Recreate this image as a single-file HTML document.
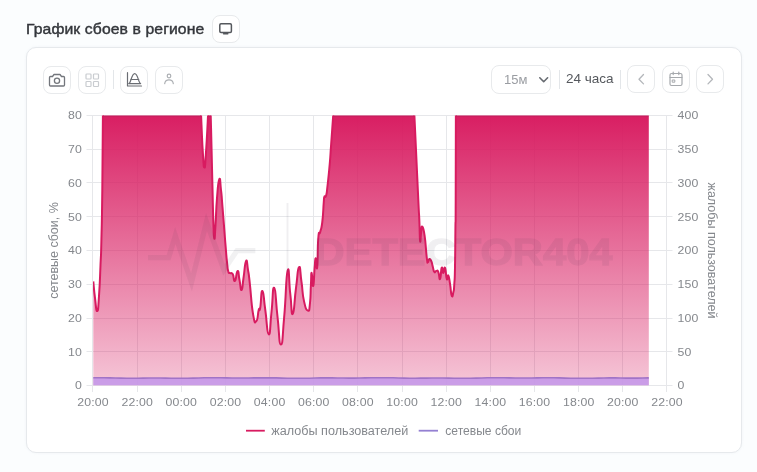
<!DOCTYPE html>
<html lang="ru">
<head>
<meta charset="utf-8">
<title>График сбоев в регионе</title>
<style>
*{box-sizing:border-box;margin:0;padding:0}
html,body{width:757px;height:472px;overflow:hidden;background:#fbfdfe;font-family:"Liberation Sans",sans-serif;}
.abs{position:absolute}
.title{position:absolute;left:26px;top:19px;font-size:14.7px;font-weight:400;color:#33363b;-webkit-text-stroke:0.42px #33363b;line-height:20px;white-space:nowrap;letter-spacing:0.1px;transform:scaleX(1.07);transform-origin:0 0}
.btn{position:absolute;width:28px;height:28px;border:1px solid #e8eaec;border-radius:8px;background:#fff}
.card{position:absolute;left:26px;top:47px;width:716px;height:406px;background:#fff;border:1px solid #e6e9ec;border-radius:10px;box-shadow:0 0 3px rgba(200,210,220,.2)}
.sep{position:absolute;width:1px;background:#e3e6e9}
.sel{position:absolute;left:491px;top:65px;width:60px;height:29px;border:1px solid #e8eaec;border-radius:8px;background:#fff}
.sel span{position:absolute;left:12px;top:6px;font-size:13px;color:#9a9da2;line-height:16px}
.rng{position:absolute;left:566px;top:71px;font-size:13.5px;color:#55585d;line-height:16px;white-space:nowrap}
svg{position:absolute;left:0;top:0}
svg text{font-family:"Liberation Sans",sans-serif}
</style>
</head>
<body>
<div class="title">График сбоев в регионе</div>
<div class="btn" style="left:212px;top:15px"></div>
<div class="card"></div>

<div class="btn" style="left:43px;top:66px"></div>
<div class="btn" style="left:78px;top:66px"></div>
<div class="sep" style="left:113px;top:70px;height:19px"></div>
<div class="btn" style="left:120px;top:66px"></div>
<div class="btn" style="left:155px;top:66px"></div>

<div class="sel"><span>15м</span></div>
<div class="sep" style="left:559px;top:70px;height:19px"></div>
<div class="rng">24 часа</div>
<div class="sep" style="left:620px;top:70px;height:19px"></div>
<div class="btn" style="left:627px;top:65px"></div>
<div class="btn" style="left:662px;top:65px"></div>
<div class="btn" style="left:696px;top:65px"></div>

<svg width="757" height="472" viewBox="0 0 757 472">
<defs>
<linearGradient id="pg" x1="0" y1="115.5" x2="0" y2="385.5" gradientUnits="userSpaceOnUse">
<stop offset="0" stop-color="#d81b60" stop-opacity="0.985"/>
<stop offset="1" stop-color="#d81b60" stop-opacity="0.25"/>
</linearGradient>
<clipPath id="cp"><rect x="93" y="115.5" width="574" height="270"/></clipPath>
</defs>

<!-- icons -->
<g fill="none" stroke="#7b7e84" stroke-width="1.3" stroke-linecap="round" stroke-linejoin="round">
<!-- title monitor -->
<rect x="219.8" y="23.8" width="11.6" height="8.6" rx="1.2" stroke="#55585d" stroke-width="1.5"/>
<path d="M223.6,33.7h4.2" stroke="#55585d" stroke-width="1.6"/>
<!-- camera -->
<path d="M50.5,76.5h2l1.5,-2h6l1.5,2h2a1,1 0 0 1 1,1v7.5a1,1 0 0 1 -1,1h-13a1,1 0 0 1 -1,-1v-7.5a1,1 0 0 1 1,-1z" stroke="#73767c" stroke-width="1.3"/>
<circle cx="57" cy="80.7" r="2.6" stroke="#73767c" stroke-width="1.3"/>
<!-- grid -->
<g stroke="#c9ccd0" stroke-width="1.2">
<rect x="86" y="74" width="5" height="5" rx="0.8"/><rect x="93.5" y="74" width="5" height="5" rx="0.8"/>
<rect x="86" y="81.5" width="5" height="5" rx="0.8"/><rect x="93.5" y="81.5" width="5" height="5" rx="0.8"/>
</g>
<!-- area chart icon -->
<path d="M127.5,72.7V86H141.5 M128.8,83.6C131,83 131.5,73.6 134.7,73.6S138.5,83 140.6,83.6Z M130.6,79.5H138.8" stroke="#6a6d73" stroke-width="1.2"/>
<!-- person -->
<g stroke="#adb0b4" stroke-width="1.2">
<circle cx="169" cy="76" r="1.8"/>
<path d="M164.7,83.6c0.3,-2.4 2,-3.8 4.3,-3.8s4,1.4 4.3,3.8"/>
</g>
<!-- select chevron -->
<path d="M539.8,77.8l3.9,3.9l3.9,-3.9" stroke="#666a70" stroke-width="1.6"/>
<!-- prev / next -->
<path d="M643.5,74.5l-4.5,4.7l4.5,4.7" stroke="#b4b7bb" stroke-width="1.3"/>
<path d="M708,74.5l4.5,4.7l-4.5,4.7" stroke="#b4b7bb" stroke-width="1.3"/>
<!-- calendar -->
<g stroke="#a6a9ad" stroke-width="1.2">
<rect x="670" y="73.5" width="12" height="12" rx="1.5"/>
<path d="M670,77.5h12 M673.2,72v2.6 M678.8,72v2.6"/>
<rect x="672.6" y="80" width="2.2" height="2.2" stroke-width="1"/>
</g>
</g>

<!-- grid -->
<g stroke="#e6e7ea" stroke-width="1" fill="none">
<path d="M86.5,385.5H672.5"/>
<path d="M86.5,351.5H672.5"/>
<path d="M86.5,318.5H672.5"/>
<path d="M86.5,284.5H672.5"/>
<path d="M86.5,250.5H672.5"/>
<path d="M86.5,216.5H672.5"/>
<path d="M86.5,182.5H672.5"/>
<path d="M86.5,149.5H672.5"/>
<path d="M86.5,115.5H672.5"/>
<path d="M92.5,115.5V392"/>
<path d="M137.5,115.5V392"/>
<path d="M181.5,115.5V392"/>
<path d="M225.5,115.5V392"/>
<path d="M269.5,115.5V392"/>
<path d="M313.5,115.5V392"/>
<path d="M357.5,115.5V392"/>
<path d="M402.5,115.5V392"/>
<path d="M446.5,115.5V392"/>
<path d="M490.5,115.5V392"/>
<path d="M534.5,115.5V392"/>
<path d="M578.5,115.5V392"/>
<path d="M622.5,115.5V392"/>
<path d="M666.5,115.5V392"/>
</g>
<!-- chart -->
<g clip-path="url(#cp)">
<path d="M93.3,281.4C93.8,286.4 93.8,289.1 95.0,298.0C96.2,306.9 96.0,311.6 97.2,311.0C98.4,310.4 98.0,309.8 99.0,296.0C100.0,282.2 99.8,281.8 100.5,265.0C101.2,248.2 100.9,262.5 101.4,240.0C101.9,217.5 101.8,232.0 102.3,190.0C102.8,148.0 102.8,127.0 103.0,100.0L200.5,100.0C200.8,107.5 200.8,108.5 201.5,125.0C202.2,141.5 202.1,142.2 203.0,155.0C203.9,167.8 203.6,167.5 204.4,167.5C205.2,167.5 204.8,169.2 205.8,155.0C206.8,140.8 207.0,136.5 207.8,120.0C208.6,103.5 208.1,109.0 208.6,100.0C209.1,91.0 209.0,88.5 209.5,90.0C210.0,91.5 209.8,93.0 210.3,105.0C210.8,117.0 210.5,107.5 211.1,130.0C211.7,152.5 211.6,153.0 212.3,180.0C213.0,207.0 212.7,202.4 213.3,220.0C213.9,237.6 213.6,237.0 214.3,238.5C215.0,240.0 214.7,237.2 215.5,225.0C216.3,212.8 215.9,211.7 217.0,198.0C218.1,184.3 218.1,181.7 219.3,179.3C220.5,176.9 220.0,181.7 221.0,190.0C222.0,198.3 221.2,191.2 222.5,207.0C223.8,222.8 224.0,226.1 225.3,242.6C226.7,259.1 226.1,253.5 227.0,262.0C227.9,270.5 227.3,267.7 228.2,271.0C229.1,274.3 228.7,272.1 230.0,273.0C231.3,273.9 231.2,271.6 232.7,274.0C234.2,276.4 233.4,281.9 234.9,281.0C236.4,280.1 236.2,271.3 237.6,271.0C239.0,270.7 238.3,274.3 239.5,280.0C240.7,285.7 240.4,290.6 241.6,290.0C242.8,289.4 242.2,286.6 243.5,278.0C244.8,269.4 244.7,263.6 246.0,261.2C247.3,258.8 246.9,263.4 248.0,270.0C249.1,276.6 248.3,270.0 249.8,283.3C251.3,296.6 251.1,303.1 253.1,314.4C255.1,325.7 254.7,322.3 256.4,321.0C258.1,319.7 257.6,313.9 258.7,310.0C259.8,306.1 259.1,313.7 260.2,308.0C261.3,302.3 260.9,290.4 262.4,291.0C263.9,291.6 263.4,297.0 265.3,310.0C267.2,323.0 266.8,333.8 268.7,334.4C270.6,335.0 269.9,326.0 271.5,312.0C273.1,298.0 272.4,286.4 274.2,287.8C276.0,289.2 275.5,299.7 277.5,316.7C279.5,333.7 278.9,344.4 280.9,344.4C282.9,344.4 282.2,338.8 284.2,316.7C286.2,294.6 285.8,277.6 287.6,270.8C289.4,264.0 288.7,281.1 290.3,294.0C291.9,306.9 291.1,315.7 292.8,313.9C294.5,312.1 294.1,302.0 296.0,288.0C297.9,274.0 297.4,269.0 299.0,267.2C300.6,265.4 300.0,272.0 301.5,282.0C303.0,292.0 302.0,292.0 303.9,300.6C305.8,309.2 306.1,309.9 307.9,310.6C309.7,311.3 309.1,310.7 310.0,303.0C310.9,295.3 310.4,294.1 310.9,285.0C311.4,275.9 311.0,272.5 311.7,272.8C312.4,273.1 312.3,287.4 313.2,286.0C314.1,284.6 313.9,276.3 314.6,268.0C315.4,259.7 314.9,258.6 315.7,258.3C316.5,258.0 316.4,273.1 317.2,267.0C318.0,260.9 317.4,248.5 318.3,238.0C319.2,227.5 319.0,236.8 320.2,232.0C321.4,227.2 321.2,230.7 322.3,222.0C323.4,213.3 323.1,210.5 323.7,203.0C324.3,195.5 323.7,199.2 324.3,197.0C325.0,194.8 325.1,199.1 326.1,195.5C327.1,191.9 326.5,194.4 327.6,185.0C328.7,175.6 328.6,176.7 329.7,164.3C330.8,151.9 330.1,158.3 331.2,143.6C332.2,128.9 332.3,128.5 333.2,115.4C334.1,102.3 334.0,104.6 334.3,100.0L413.5,100.0C413.8,104.7 413.6,100.5 414.4,115.5C415.1,130.5 414.8,124.7 416.0,150.0C417.2,175.3 417.3,178.4 418.3,200.0C419.3,221.6 418.9,209.7 419.4,222.0C419.9,234.3 419.6,238.0 420.1,241.0C420.6,244.0 420.5,236.3 421.2,232.0C421.9,227.7 421.3,225.6 422.3,226.7C423.3,227.8 423.2,226.3 424.6,235.6C426.0,244.9 425.8,249.9 426.8,257.8C427.8,265.7 427.1,261.6 427.9,262.0C428.7,262.4 428.4,259.3 429.4,259.0C430.4,258.7 430.2,258.7 431.2,261.0C432.2,263.3 431.9,263.4 432.8,266.7C433.7,270.0 433.3,270.7 434.3,272.0C435.3,273.3 434.9,271.0 436.1,271.0C437.3,271.0 437.1,269.6 438.3,272.0C439.5,274.4 439.1,280.3 440.1,279.0C441.1,277.7 440.8,269.6 441.7,267.8C442.6,266.0 442.2,273.0 443.2,273.0C444.2,273.0 443.9,266.0 445.0,267.8C446.1,269.6 445.8,276.7 446.8,279.0C447.8,281.3 447.3,273.9 448.3,275.5C449.3,277.1 449.1,278.4 450.1,284.4C451.1,290.4 450.7,293.3 451.7,295.6C452.7,297.9 452.6,295.5 453.4,292.0C454.2,288.5 453.8,291.6 454.3,284.0C454.8,276.4 454.7,282.9 455.0,266.7C455.3,250.5 455.2,250.0 455.4,230.0C455.6,210.0 455.6,239.0 455.7,200.0C455.8,161.0 455.8,130.0 455.9,100.0L648.8,100L648.8,385.5L93.3,385.5Z" fill="url(#pg)"/>
<path d="M93.3,281.4C93.8,286.4 93.8,289.1 95.0,298.0C96.2,306.9 96.0,311.6 97.2,311.0C98.4,310.4 98.0,309.8 99.0,296.0C100.0,282.2 99.8,281.8 100.5,265.0C101.2,248.2 100.9,262.5 101.4,240.0C101.9,217.5 101.8,232.0 102.3,190.0C102.8,148.0 102.8,127.0 103.0,100.0L200.5,100.0C200.8,107.5 200.8,108.5 201.5,125.0C202.2,141.5 202.1,142.2 203.0,155.0C203.9,167.8 203.6,167.5 204.4,167.5C205.2,167.5 204.8,169.2 205.8,155.0C206.8,140.8 207.0,136.5 207.8,120.0C208.6,103.5 208.1,109.0 208.6,100.0C209.1,91.0 209.0,88.5 209.5,90.0C210.0,91.5 209.8,93.0 210.3,105.0C210.8,117.0 210.5,107.5 211.1,130.0C211.7,152.5 211.6,153.0 212.3,180.0C213.0,207.0 212.7,202.4 213.3,220.0C213.9,237.6 213.6,237.0 214.3,238.5C215.0,240.0 214.7,237.2 215.5,225.0C216.3,212.8 215.9,211.7 217.0,198.0C218.1,184.3 218.1,181.7 219.3,179.3C220.5,176.9 220.0,181.7 221.0,190.0C222.0,198.3 221.2,191.2 222.5,207.0C223.8,222.8 224.0,226.1 225.3,242.6C226.7,259.1 226.1,253.5 227.0,262.0C227.9,270.5 227.3,267.7 228.2,271.0C229.1,274.3 228.7,272.1 230.0,273.0C231.3,273.9 231.2,271.6 232.7,274.0C234.2,276.4 233.4,281.9 234.9,281.0C236.4,280.1 236.2,271.3 237.6,271.0C239.0,270.7 238.3,274.3 239.5,280.0C240.7,285.7 240.4,290.6 241.6,290.0C242.8,289.4 242.2,286.6 243.5,278.0C244.8,269.4 244.7,263.6 246.0,261.2C247.3,258.8 246.9,263.4 248.0,270.0C249.1,276.6 248.3,270.0 249.8,283.3C251.3,296.6 251.1,303.1 253.1,314.4C255.1,325.7 254.7,322.3 256.4,321.0C258.1,319.7 257.6,313.9 258.7,310.0C259.8,306.1 259.1,313.7 260.2,308.0C261.3,302.3 260.9,290.4 262.4,291.0C263.9,291.6 263.4,297.0 265.3,310.0C267.2,323.0 266.8,333.8 268.7,334.4C270.6,335.0 269.9,326.0 271.5,312.0C273.1,298.0 272.4,286.4 274.2,287.8C276.0,289.2 275.5,299.7 277.5,316.7C279.5,333.7 278.9,344.4 280.9,344.4C282.9,344.4 282.2,338.8 284.2,316.7C286.2,294.6 285.8,277.6 287.6,270.8C289.4,264.0 288.7,281.1 290.3,294.0C291.9,306.9 291.1,315.7 292.8,313.9C294.5,312.1 294.1,302.0 296.0,288.0C297.9,274.0 297.4,269.0 299.0,267.2C300.6,265.4 300.0,272.0 301.5,282.0C303.0,292.0 302.0,292.0 303.9,300.6C305.8,309.2 306.1,309.9 307.9,310.6C309.7,311.3 309.1,310.7 310.0,303.0C310.9,295.3 310.4,294.1 310.9,285.0C311.4,275.9 311.0,272.5 311.7,272.8C312.4,273.1 312.3,287.4 313.2,286.0C314.1,284.6 313.9,276.3 314.6,268.0C315.4,259.7 314.9,258.6 315.7,258.3C316.5,258.0 316.4,273.1 317.2,267.0C318.0,260.9 317.4,248.5 318.3,238.0C319.2,227.5 319.0,236.8 320.2,232.0C321.4,227.2 321.2,230.7 322.3,222.0C323.4,213.3 323.1,210.5 323.7,203.0C324.3,195.5 323.7,199.2 324.3,197.0C325.0,194.8 325.1,199.1 326.1,195.5C327.1,191.9 326.5,194.4 327.6,185.0C328.7,175.6 328.6,176.7 329.7,164.3C330.8,151.9 330.1,158.3 331.2,143.6C332.2,128.9 332.3,128.5 333.2,115.4C334.1,102.3 334.0,104.6 334.3,100.0L413.5,100.0C413.8,104.7 413.6,100.5 414.4,115.5C415.1,130.5 414.8,124.7 416.0,150.0C417.2,175.3 417.3,178.4 418.3,200.0C419.3,221.6 418.9,209.7 419.4,222.0C419.9,234.3 419.6,238.0 420.1,241.0C420.6,244.0 420.5,236.3 421.2,232.0C421.9,227.7 421.3,225.6 422.3,226.7C423.3,227.8 423.2,226.3 424.6,235.6C426.0,244.9 425.8,249.9 426.8,257.8C427.8,265.7 427.1,261.6 427.9,262.0C428.7,262.4 428.4,259.3 429.4,259.0C430.4,258.7 430.2,258.7 431.2,261.0C432.2,263.3 431.9,263.4 432.8,266.7C433.7,270.0 433.3,270.7 434.3,272.0C435.3,273.3 434.9,271.0 436.1,271.0C437.3,271.0 437.1,269.6 438.3,272.0C439.5,274.4 439.1,280.3 440.1,279.0C441.1,277.7 440.8,269.6 441.7,267.8C442.6,266.0 442.2,273.0 443.2,273.0C444.2,273.0 443.9,266.0 445.0,267.8C446.1,269.6 445.8,276.7 446.8,279.0C447.8,281.3 447.3,273.9 448.3,275.5C449.3,277.1 449.1,278.4 450.1,284.4C451.1,290.4 450.7,293.3 451.7,295.6C452.7,297.9 452.6,295.5 453.4,292.0C454.2,288.5 453.8,291.6 454.3,284.0C454.8,276.4 454.7,282.9 455.0,266.7C455.3,250.5 455.2,250.0 455.4,230.0C455.6,210.0 455.6,239.0 455.7,200.0C455.8,161.0 455.8,130.0 455.9,100.0L648.8,100" fill="none" stroke="#d81b60" stroke-width="2" stroke-linejoin="round"/>
<path d="M93.3,377.7L98.8,377.7L104.4,377.8L109.9,377.9L115.5,378.0L121.0,378.1L126.6,378.2L132.1,378.2L137.7,378.2L143.2,378.1L148.8,378.0L154.3,378.0L159.9,378.0L165.4,378.1L171.0,378.2L176.5,378.2L182.1,378.2L187.6,378.2L193.2,378.1L198.7,378.0L204.3,377.8L209.8,377.7L215.4,377.7L220.9,377.8L226.5,377.9L232.0,378.0L237.6,378.0L243.1,378.0L248.7,378.0L254.2,377.9L259.8,377.9L265.3,377.8L270.9,377.9L276.4,377.9L282.0,378.1L287.5,378.2L293.1,378.3L298.6,378.3L304.2,378.3L309.7,378.2L315.3,378.0L320.8,377.9L326.4,377.9L331.9,377.9L337.5,378.0L343.0,378.0L348.6,378.1L354.1,378.1L359.7,378.0L365.2,377.9L370.8,377.8L376.3,377.7L381.9,377.7L387.4,377.7L393.0,377.8L398.5,378.0L404.1,378.1L409.6,378.2L415.2,378.2L420.7,378.1L426.3,378.1L431.8,378.0L437.4,378.0L442.9,378.0L448.5,378.1L454.0,378.2L459.6,378.3L465.1,378.3L470.7,378.2L476.2,378.1L481.8,378.0L487.3,377.8L492.9,377.8L498.4,377.7L504.0,377.8L509.5,377.9L515.1,378.0L520.6,378.0L526.2,378.0L531.7,378.0L537.3,377.9L542.8,377.8L548.4,377.8L553.9,377.8L559.5,377.9L565.0,378.1L570.6,378.2L576.1,378.3L581.7,378.3L587.2,378.3L592.8,378.2L598.3,378.1L603.9,378.0L609.4,377.9L615.0,377.9L620.5,378.0L626.1,378.1L631.6,378.1L637.2,378.1L642.7,378.0L648.3,377.9L648.8,377.9L648.8,385.5L93.3,385.5Z" fill="#c599e8" fill-opacity="0.92"/>
<path d="M93.3,377.7L98.8,377.7L104.4,377.8L109.9,377.9L115.5,378.0L121.0,378.1L126.6,378.2L132.1,378.2L137.7,378.2L143.2,378.1L148.8,378.0L154.3,378.0L159.9,378.0L165.4,378.1L171.0,378.2L176.5,378.2L182.1,378.2L187.6,378.2L193.2,378.1L198.7,378.0L204.3,377.8L209.8,377.7L215.4,377.7L220.9,377.8L226.5,377.9L232.0,378.0L237.6,378.0L243.1,378.0L248.7,378.0L254.2,377.9L259.8,377.9L265.3,377.8L270.9,377.9L276.4,377.9L282.0,378.1L287.5,378.2L293.1,378.3L298.6,378.3L304.2,378.3L309.7,378.2L315.3,378.0L320.8,377.9L326.4,377.9L331.9,377.9L337.5,378.0L343.0,378.0L348.6,378.1L354.1,378.1L359.7,378.0L365.2,377.9L370.8,377.8L376.3,377.7L381.9,377.7L387.4,377.7L393.0,377.8L398.5,378.0L404.1,378.1L409.6,378.2L415.2,378.2L420.7,378.1L426.3,378.1L431.8,378.0L437.4,378.0L442.9,378.0L448.5,378.1L454.0,378.2L459.6,378.3L465.1,378.3L470.7,378.2L476.2,378.1L481.8,378.0L487.3,377.8L492.9,377.8L498.4,377.7L504.0,377.8L509.5,377.9L515.1,378.0L520.6,378.0L526.2,378.0L531.7,378.0L537.3,377.9L542.8,377.8L548.4,377.8L553.9,377.8L559.5,377.9L565.0,378.1L570.6,378.2L576.1,378.3L581.7,378.3L587.2,378.3L592.8,378.2L598.3,378.1L603.9,378.0L609.4,377.9L615.0,377.9L620.5,378.0L626.1,378.1L631.6,378.1L637.2,378.1L642.7,378.0L648.3,377.9L648.8,377.9" fill="none" stroke="#a173c6" stroke-width="1.6"/>
<path d="M102.8,116H201.2M208.2,116H211M333.2,116H414.4M455.8,116H648.8" fill="none" stroke="#8a1f4c" stroke-opacity="0.35" stroke-width="1"/>
</g>

<!-- watermark -->
<g opacity="0.065">
<g fill="none" stroke="#2d2840">
<path d="M148,257.7H168.6L175.3,235.7L191.5,282.4L206.5,222L224,270L237,250.6H255.3" stroke-width="5.2" stroke-linejoin="miter"/>
<path d="M287.5,203V272" stroke-width="2"/>
</g>
<text x="314.5" y="264.8" font-size="37.5" font-weight="700" fill="#2d2840" stroke="#2d2840" stroke-width="1.3" textLength="298" lengthAdjust="spacingAndGlyphs">DETECTOR404</text>
</g>
<!-- axis labels -->
<g font-size="11.2" fill="#85888d" letter-spacing="0.15">
<text transform="translate(82,389.4) scale(1.1,1)" text-anchor="end">0</text>
<text transform="translate(677.5,389.4) scale(1.1,1)">0</text>
<text transform="translate(82,355.6) scale(1.1,1)" text-anchor="end">10</text>
<text transform="translate(677.5,355.6) scale(1.1,1)">50</text>
<text transform="translate(82,321.9) scale(1.1,1)" text-anchor="end">20</text>
<text transform="translate(677.5,321.9) scale(1.1,1)">100</text>
<text transform="translate(82,288.1) scale(1.1,1)" text-anchor="end">30</text>
<text transform="translate(677.5,288.1) scale(1.1,1)">150</text>
<text transform="translate(82,254.4) scale(1.1,1)" text-anchor="end">40</text>
<text transform="translate(677.5,254.4) scale(1.1,1)">200</text>
<text transform="translate(82,220.7) scale(1.1,1)" text-anchor="end">50</text>
<text transform="translate(677.5,220.7) scale(1.1,1)">250</text>
<text transform="translate(82,186.9) scale(1.1,1)" text-anchor="end">60</text>
<text transform="translate(677.5,186.9) scale(1.1,1)">300</text>
<text transform="translate(82,153.2) scale(1.1,1)" text-anchor="end">70</text>
<text transform="translate(677.5,153.2) scale(1.1,1)">350</text>
<text transform="translate(82,119.4) scale(1.1,1)" text-anchor="end">80</text>
<text transform="translate(677.5,119.4) scale(1.1,1)">400</text>
<text transform="translate(93.0,406) scale(1.1,1)" text-anchor="middle">20:00</text>
<text transform="translate(137.2,406) scale(1.1,1)" text-anchor="middle">22:00</text>
<text transform="translate(181.3,406) scale(1.1,1)" text-anchor="middle">00:00</text>
<text transform="translate(225.5,406) scale(1.1,1)" text-anchor="middle">02:00</text>
<text transform="translate(269.6,406) scale(1.1,1)" text-anchor="middle">04:00</text>
<text transform="translate(313.8,406) scale(1.1,1)" text-anchor="middle">06:00</text>
<text transform="translate(357.9,406) scale(1.1,1)" text-anchor="middle">08:00</text>
<text transform="translate(402.1,406) scale(1.1,1)" text-anchor="middle">10:00</text>
<text transform="translate(446.2,406) scale(1.1,1)" text-anchor="middle">12:00</text>
<text transform="translate(490.4,406) scale(1.1,1)" text-anchor="middle">14:00</text>
<text transform="translate(534.5,406) scale(1.1,1)" text-anchor="middle">16:00</text>
<text transform="translate(578.7,406) scale(1.1,1)" text-anchor="middle">18:00</text>
<text transform="translate(622.8,406) scale(1.1,1)" text-anchor="middle">20:00</text>
<text transform="translate(667.0,406) scale(1.1,1)" text-anchor="middle">22:00</text>
</g>
<text transform="translate(57.5,250.5) rotate(-90)" text-anchor="middle" font-size="12" fill="#85888d" textLength="96.5" lengthAdjust="spacingAndGlyphs">сетевые сбои, %</text>
<text transform="translate(708.2,250.5) rotate(90)" text-anchor="middle" font-size="12" fill="#85888d" textLength="136" lengthAdjust="spacingAndGlyphs">жалобы пользователей</text>

<!-- legend -->
<path d="M246,430.7H264.8" stroke="#d81b60" stroke-width="1.8"/>
<text x="271.3" y="434.5" font-size="12" fill="#85888d" textLength="137" lengthAdjust="spacingAndGlyphs">жалобы пользователей</text>
<path d="M418.7,430.7H438" stroke="#9480d2" stroke-width="1.8"/>
<text x="445.3" y="434.5" font-size="12" fill="#85888d" textLength="76" lengthAdjust="spacingAndGlyphs">сетевые сбои</text>
</svg>
</body>
</html>
